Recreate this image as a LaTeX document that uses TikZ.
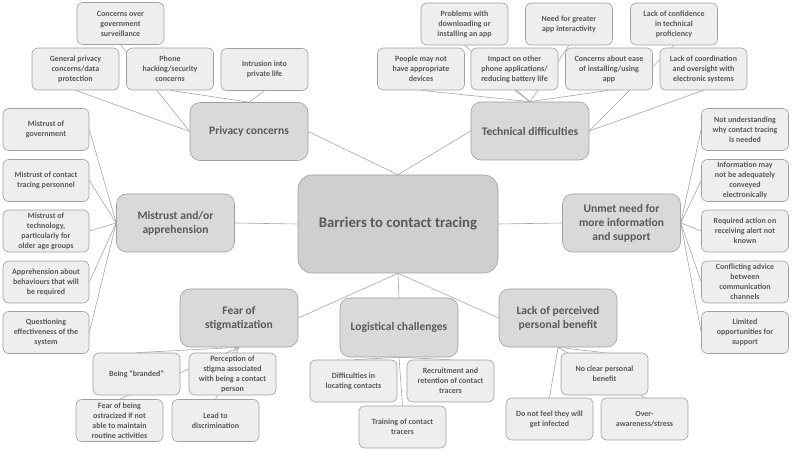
\documentclass[tikz,border=0pt]{standalone}
\usepackage{fontspec}
\setmainfont{Carlito}
\usepackage{xcolor}
\usepackage{tikz}
\usetikzlibrary{backgrounds}
\definecolor{cttext}{HTML}{595959}
\definecolor{ctline}{HTML}{A6A6A6}
\definecolor{ctborder}{HTML}{A0A0A0}
\definecolor{ctitemfill}{HTML}{EEEEEE}
\definecolor{ctthemefill}{HTML}{D9D9D9}
\definecolor{ctrootfill}{HTML}{CFCFCF}
\tikzset{
  ctitem/.style={
    rectangle, rounded corners=6bp, draw=ctborder, fill=ctitemfill, line width=0.6bp,
    minimum width=87bp, minimum height=42bp, inner sep=1bp, align=center,
    text=cttext, font=\fontsize{8}{10}\selectfont\bfseries
  },
  cttheme/.style={
    rectangle, rounded corners=10bp, draw=ctborder, fill=ctthemefill, line width=0.6bp,
    minimum width=118bp, minimum height=58bp, inner sep=1bp, align=center,
    text=cttext, font=\fontsize{11.6}{14}\selectfont\bfseries
  },
  ctroot/.style={
    rectangle, rounded corners=14bp, draw=ctborder, fill=ctrootfill, line width=0.6bp,
    minimum width=200bp, minimum height=98bp, inner sep=1bp, align=center,
    text=cttext, font=\fontsize{14.8}{18}\selectfont\bfseries
  },
  ctedge/.style={draw=ctline, line width=0.6bp}
}

\begin{document}
\begin{tikzpicture}[x=1bp,y=-1bp]
  \useasboundingbox (0,0) rectangle (792,451);

  % Root and themes
  \node[ctroot] (root) at (398,224) {Barriers to contact tracing};
  \node[cttheme] (privacy) at (249,131.5) {Privacy concerns};
  \node[cttheme] (technical) at (530,131) {Technical difficulties};
  \node[cttheme] (mistrust) at (175.5,223) {Mistrust and/or\\apprehension};
  \node[cttheme] (unmet) at (621.5,223) {Unmet need for\\more information\\and support};
  \node[cttheme] (fear) at (239,318) {Fear of\\stigmatization};
  \node[cttheme,minimum height=59bp] (logistic) at (399,327.5) {Logistical challenges};
  \node[cttheme] (benefit) at (558,318) {Lack of perceived\\personal benefit};

  % Privacy concerns
  \node[ctitem] (govsurv) at (120.5,23.5) {Concerns over\\government\\surveillance};
  \node[ctitem] (general) at (75.5,69) {General privacy\\concerns/data\\protection};
  \node[ctitem] (hacking) at (170,69) {Phone\\hacking/security\\concerns};
  \node[ctitem] (intrusion) at (264.5,69.5) {Intrusion into\\private life};

  % Technical difficulties
  \node[ctitem] (download) at (464.5,24) {Problems with\\downloading or\\installing an app};
  \node[ctitem] (interact) at (569,24) {Need for greater\\app interactivity};
  \node[ctitem] (confidence) at (674,24) {Lack of confidence\\in technical\\proficiency};
  \node[ctitem] (devices) at (421,69) {People may not\\have appropriate\\devices};
  \node[ctitem] (battery) at (514.5,69) {Impact on other\\phone applications/\\reducing battery life};
  \node[ctitem] (ease) at (609,69) {Concerns about ease\\of installing/using\\app};
  \node[ctitem] (coord) at (703.5,69) {Lack of coordination\\and oversight with\\electronic systems};

  % Mistrust and/or apprehension
  \node[ctitem,minimum width=86bp] (mgov) at (46,129.5) {Mistrust of\\government};
  \node[ctitem,minimum width=86bp] (mstaff) at (46,180.5) {Mistrust of contact\\tracing personnel};
  \node[ctitem,minimum width=86bp] (mtech) at (46,231) {Mistrust of\\technology,\\particularly for\\older age groups};
  \node[ctitem,minimum width=86bp] (behave) at (46,282) {Apprehension about\\behaviours that will\\be required};
  \node[ctitem,minimum width=86bp] (effect) at (46,332.5) {Questioning\\effectiveness of the\\system};

  % Unmet need for more information and support
  \node[ctitem] (why) at (745,129.5) {Not understanding\\why contact tracing\\is needed};
  \node[ctitem] (conveyed) at (745,180.5) {Information may\\not be adequately\\conveyed\\electronically};
  \node[ctitem] (alert) at (745,231) {Required action on\\receiving alert not\\known};
  \node[ctitem] (conflict) at (745,282) {Conflicting advice\\between\\communication\\channels};
  \node[ctitem] (support) at (745,332.5) {Limited\\opportunities for\\support};

  % Fear of stigmatization
  \node[ctitem] (branded) at (136.5,374) {Being "branded"};
  \node[ctitem] (stigma) at (232.5,374) {Perception of\\stigma associated\\with being a contact\\person};
  \node[ctitem] (ostracized) at (119.5,420.5) {Fear of being\\ostracized if not\\able to maintain\\routine activities};
  \node[ctitem] (discrim) at (215.5,420.5) {Lead to\\discrimination};

  % Logistical challenges
  \node[ctitem] (locating) at (353.5,381) {Difficulties in\\locating contacts};
  \node[ctitem] (recruit) at (450.5,381) {Recruitment and\\retention of contact\\tracers};
  \node[ctitem] (training) at (402.5,427) {Training of contact\\tracers};

  % Lack of perceived personal benefit
  \node[ctitem] (noclear) at (604.5,374) {No clear personal\\benefit};
  \node[ctitem] (infected) at (549.5,419) {Do not feel they will\\get infected};
  \node[ctitem] (stress) at (644.5,419) {Over-\\awareness/stress};

  % connectors sit behind the boxes
  \begin{scope}[on background layer]
    \draw[ctedge] (privacy.east) -- (root.north);
    \draw[ctedge] (technical.west) -- (root.north);
    \draw[ctedge] (mistrust.east) -- (root.west);
    \draw[ctedge] (unmet.west) -- (root.east);
    \draw[ctedge] (fear.east) -- (root.south);
    \draw[ctedge] (logistic.north) -- (root.south);
    \draw[ctedge] (benefit.west) -- (root.south);

    \draw[ctedge] (govsurv.south) -- (privacy.west);
    \draw[ctedge] (general.south) -- (privacy.west);
    \draw[ctedge] (hacking.south) -- (privacy.north);
    \draw[ctedge] (intrusion.south) -- (privacy.north);

    \draw[ctedge] (download.south) -- (technical.north);
    \draw[ctedge] (interact.south) -- (technical.north);
    \draw[ctedge] (devices.south) -- (technical.north);
    \draw[ctedge] (battery.south) -- (technical.north);
    \draw[ctedge] (ease.south) -- (technical.north);
    \draw[ctedge] (confidence.south) -- (technical.east);
    \draw[ctedge] (coord.south) -- (technical.east);

    \draw[ctedge] (mgov.east) -- (mistrust.west);
    \draw[ctedge] (mstaff.east) -- (mistrust.west);
    \draw[ctedge] (mtech.east) -- (mistrust.west);
    \draw[ctedge] (behave.east) -- (mistrust.west);
    \draw[ctedge] (effect.east) -- (mistrust.west);

    \draw[ctedge] (why.west) -- (unmet.east);
    \draw[ctedge] (conveyed.west) -- (unmet.east);
    \draw[ctedge] (alert.west) -- (unmet.east);
    \draw[ctedge] (conflict.west) -- (unmet.east);
    \draw[ctedge] (support.west) -- (unmet.east);

    \draw[ctedge] (branded.north) -- (fear.south);
    \draw[ctedge] (stigma.north) -- (fear.south);
    \draw[ctedge] (ostracized.north) -- (fear.south);
    \draw[ctedge] (discrim.north) -- (fear.south);

    \draw[ctedge] (locating.north) -- (logistic.south);
    \draw[ctedge] (recruit.north) -- (logistic.south);
    \draw[ctedge] (training.north) -- (logistic.south);

    \draw[ctedge] (noclear.north) -- (benefit.south);
    \draw[ctedge] (infected.north) -- (benefit.south);
    \draw[ctedge] (stress.north) -- (benefit.south);
  \end{scope}
\end{tikzpicture}
\end{document}
